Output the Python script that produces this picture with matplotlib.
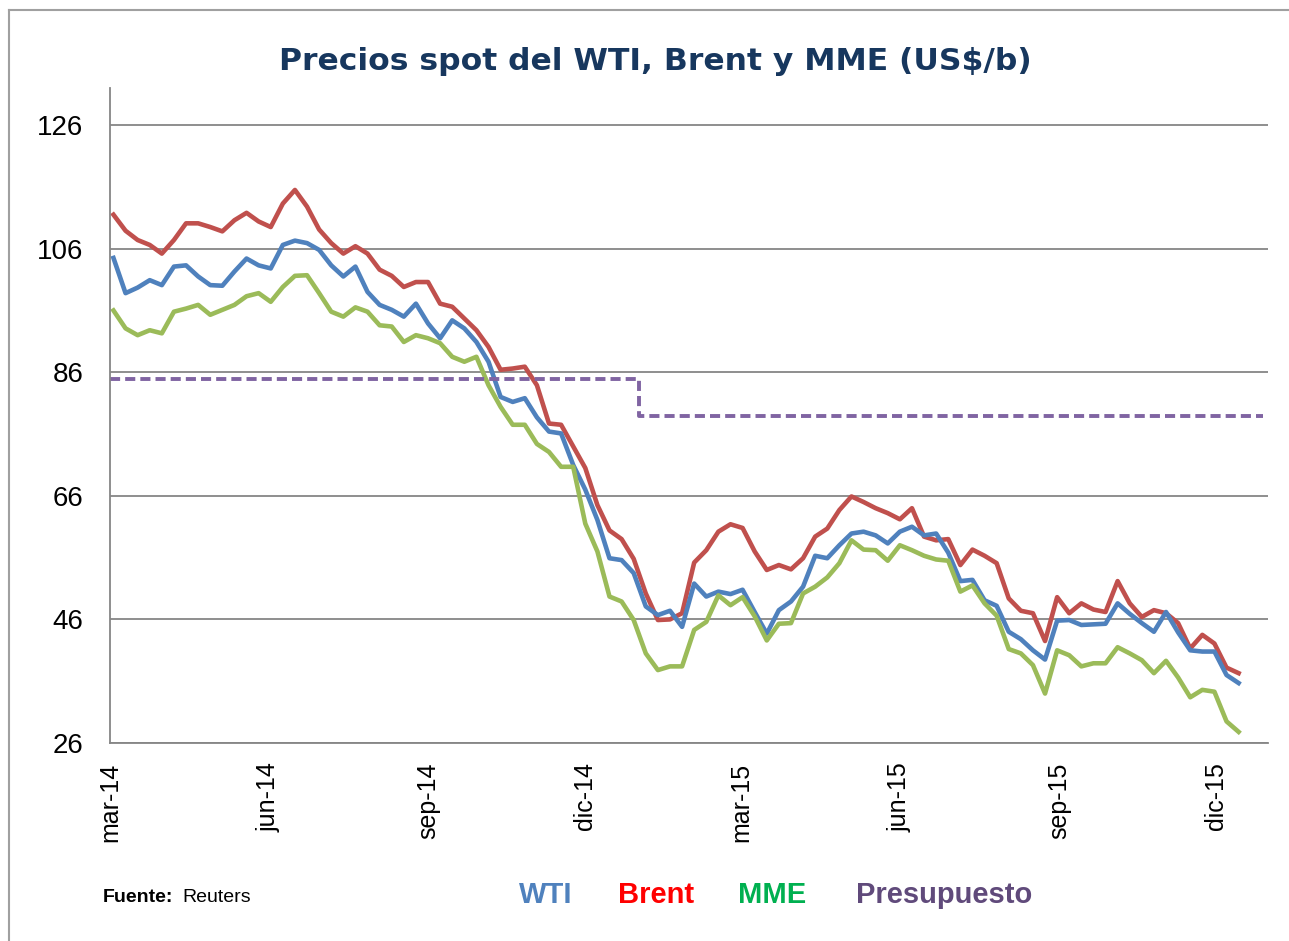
import matplotlib
matplotlib.use("Agg")
import matplotlib.pyplot as plt
import pandas as pd

plt.rcParams['font.family'] = ['Liberation Sans', 'DejaVu Sans']

# semanas (lunes) desde el 3 de marzo de 2014
fechas = pd.date_range('2014-03-03', periods=94, freq='7D')

brent = [111.5, 108.9, 107.4, 106.6, 105.2, 107.4, 110.1, 110.1, 109.5, 108.8,
         110.6, 111.8, 110.4, 109.5, 113.3, 115.5, 112.8, 109.1, 106.9, 105.2,
         106.4, 105.2, 102.6, 101.6, 99.8, 100.6, 100.6, 97.1, 96.6, 94.7,
         92.8, 90.1, 86.4, 86.6, 86.9, 83.9, 77.7, 77.5, 74.0, 70.5,
         64.5, 60.4, 59.0, 55.8, 50.2, 45.9, 46.0, 47.0, 55.2, 57.2,
         60.2, 61.4, 60.8, 57.0, 54.0, 54.8, 54.1, 55.9, 59.4, 60.7,
         63.7, 65.9, 65.0, 64.0, 63.2, 62.2, 64.0, 59.4, 58.8, 59.0,
         54.8, 57.3, 56.3, 55.1, 49.4, 47.4, 47.0, 42.5, 49.6, 47.0,
         48.6, 47.6, 47.2, 52.2, 48.6, 46.4, 47.5, 47.0, 45.4, 41.3,
         43.5, 42.1, 38.2, 37.3]

wti = [104.5, 98.8, 99.7, 100.9, 100.1, 103.1, 103.3, 101.5, 100.1, 100.0,
       102.3, 104.4, 103.3, 102.8, 106.6, 107.3, 106.9, 105.8, 103.3, 101.5,
       103.1, 99.0, 96.9, 96.1, 95.0, 97.1, 93.9, 91.5, 94.4, 93.1,
       90.9, 87.7, 82.0, 81.2, 81.8, 78.7, 76.4, 76.1, 71.0, 67.0,
       62.1, 55.9, 55.6, 53.5, 48.1, 46.7, 47.4, 44.8, 51.8, 49.7,
       50.5, 50.1, 50.8, 47.2, 43.7, 47.5, 48.9, 51.3, 56.3, 55.9,
       58.0, 59.9, 60.2, 59.6, 58.3, 60.2, 61.0, 59.6, 59.9, 56.8,
       52.2, 52.4, 49.1, 48.2, 44.0, 42.8, 41.0, 39.5, 45.8, 45.9,
       45.1, 45.2, 45.3, 48.6, 46.9, 45.4, 44.0, 47.2, 43.9, 41.0,
       40.8, 40.8, 37.0, 35.7]

mme = [96.0, 93.1, 92.0, 92.8, 92.3, 95.8, 96.3, 96.9, 95.3, 96.1,
       96.9, 98.3, 98.8, 97.4, 99.8, 101.6, 101.7, 98.8, 95.8, 95.0,
       96.5, 95.8, 93.6, 93.4, 90.9, 92.0, 91.5, 90.7, 88.5, 87.7,
       88.5, 83.9, 80.4, 77.5, 77.5, 74.4, 73.1, 70.7, 70.7, 61.5,
       57.0, 49.7, 48.9, 45.9, 40.5, 37.8, 38.4, 38.4, 44.3, 45.6,
       49.9, 48.3, 49.6, 46.5, 42.6, 45.3, 45.4, 50.2, 51.3, 52.8,
       55.1, 58.8, 57.3, 57.2, 55.5, 58.0, 57.2, 56.3, 55.7, 55.5,
       50.5, 51.5, 48.6, 46.6, 41.2, 40.5, 38.6, 34.0, 41.0, 40.2,
       38.4, 38.9, 38.9, 41.5, 40.5, 39.4, 37.3, 39.3, 36.6, 33.4,
       34.6, 34.3, 29.5, 27.8]

# precio de referencia del presupuesto
pres_fechas = pd.to_datetime(['2014-03-01', '2015-01-01', '2015-12-28'])
pres_valores = [84.9, 79.0, 79.0]

ticks_x = pd.to_datetime(['2014-03-01', '2014-06-01', '2014-09-01', '2014-12-01',
                          '2015-03-01', '2015-06-01', '2015-09-01', '2015-12-01'])
etiquetas_x = ['mar-14', 'jun-14', 'sep-14', 'dic-14', 'mar-15', 'jun-15', 'sep-15', 'dic-15']
ticks_y = [26, 46, 66, 86, 106, 126]

W, H = 1289, 941
fig = plt.figure(figsize=(W / 100, H / 100), dpi=100)
ax = fig.add_axes([110 / W, 1 - 743 / H, 1158 / W, 655 / H])

gris = '#868686'
ax.plot(fechas, brent, color='#C0504D', lw=3.3, solid_joinstyle='round')
ax.plot(fechas, wti, color='#4F81BD', lw=3.3, solid_joinstyle='round')
ax.plot(fechas, mme, color='#9BBB59', lw=3.3, solid_joinstyle='round')
ax.plot(pres_fechas, pres_valores, color='#8064A2', lw=2.8, ls=(0, (2.6, 1.3)),
        drawstyle='steps-post')

ax.set_xlim(pd.Timestamp('2014-03-01'), pd.Timestamp('2015-12-31'))
ax.set_ylim(26, 132)
ax.set_yticks(ticks_y)
ax.set_yticklabels([str(v) for v in ticks_y])
ax.set_xticks(ticks_x)
ax.set_xticklabels(etiquetas_x, rotation=90)
ax.tick_params(axis='y', length=0, pad=19, labelsize=20)
ax.tick_params(axis='x', length=0, pad=14, labelsize=18)
ax.grid(axis='y', color=gris, lw=1.3)
ax.set_axisbelow(True)
for s in ['top', 'right']:
    ax.spines[s].set_visible(False)
for s in ['left', 'bottom']:
    ax.spines[s].set_color(gris)
    ax.spines[s].set_linewidth(1.3)

# marco exterior
fig.add_artist(plt.Line2D([9 / W, 9 / W], [0, 1 - 10 / H], color='#A0A0A0', lw=1.5))
fig.add_artist(plt.Line2D([9 / W, 1], [1 - 10 / H, 1 - 10 / H], color='#A0A0A0', lw=1.5))

fig.text(655 / W, 1 - 62 / H, 'Precios spot del WTI, Brent y MME (US$/b)',
         ha='center', va='center', fontsize=22.6, fontweight='heavy',
         family='DejaVu Sans', color='#17375E')

fig.text(103 / W, 1 - 897 / H, 'Fuente:', ha='left', va='center', fontsize=14,
         fontweight='bold')
fig.text(182 / W, 1 - 897 / H, 'Reuters', ha='left', va='center', fontsize=14)

leyenda = [('WTI', '#4F81BD', 546), ('Brent', '#FF0000', 656),
           ('MME', '#00B050', 772), ('Presupuesto', '#604A7B', 944)]
for texto, color, xc in leyenda:
    fig.text(xc / W, 1 - 895 / H, texto, ha='center', va='center', fontsize=21,
             fontweight='bold', color=color)

fig.savefig('out.png', dpi=100)
